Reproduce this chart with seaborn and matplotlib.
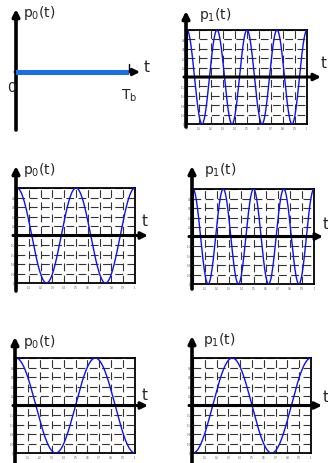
import numpy as np
import pandas as pd
import matplotlib
matplotlib.use("Agg")
import matplotlib.pyplot as plt
import seaborn as sns

W, H = 328, 464
sns.set_theme(style="white")
plt.rcParams["font.family"] = ["DejaVu Sans"]

# ---- data ----
labels = ["p$_0$(t)", "p$_1$(t)", "p$_0$(t)", "p$_1$(t)", "p$_0$(t)", "p$_1$(t)"]
cycles = [0, 4, 2, 4, 1.5, 1.5]          # cycles per bit period Tb
start_level = [0, 1, 1, 1, 1, -1]        # value at t = 0
x_ticks = [0, 0.1, 0.2, 0.3, 0.4, 0.5, 0.6, 0.7, 0.8, 0.9, 1]
y_ticks = [-1, -0.8, -0.6, -0.4, -0.2, 0, 0.2, 0.4, 0.6, 0.8, 1]
x_tick_labels = ["0", "0.1", "0.2", "0.3", "0.4", "0.5", "0.6", "0.7", "0.8", "0.9", "1"]
y_tick_labels = ["-1", "-0.8", "-0.6", "-0.4", "-0.2", "0", "0.2", "0.4", "0.6", "0.8", "1"]

# ---- layout (pixels: left, right, top, bottom) ----
boxes = [(16, 129, 26, 120), (187, 307, 31, 125), (17, 135, 189, 284),
         (193, 314, 190, 285), (16, 135, 359, 454), (193, 311, 359, 454)]
label_pos = [(23, 13), (199, 15), (23, 170), (204, 170), (23, 342), (203, 340)]
t_pos = [(147, 67), (324, 64), (145, 222), (326, 225), (145, 396), (326, 397)]
vert_bottom = [131, 128, 292, 290, 470, 470]
vert_tip = [10, 12, 167, 167, 338, 337]
horiz_start_off = [1, 3, 4, 4, 3, 4]
horiz_tip = [140, 321, 148, 323, 148, 322]

fig = plt.figure(figsize=(W / 100, H / 100), dpi=100)


def fp(x, y):
    return (x / W, 1 - y / H)


def arrow(ax, p0, p1, lw=2.2):
    ax.annotate("", xy=fp(*p1), xytext=fp(*p0), xycoords="figure fraction",
                textcoords="figure fraction", annotation_clip=False,
                arrowprops=dict(arrowstyle="-|>", lw=lw, color="black",
                                mutation_scale=10, shrinkA=0, shrinkB=0),
                zorder=5)


for i in range(6):
    l, r, t, b = boxes[i]
    x0, y0 = fp(l, b)
    ax = fig.add_axes([x0, y0, (r - l) / W, (b - t) / H])
    ax.set_xlim(0, 1)
    ax.set_ylim(-1, 1)
    ax.patch.set_alpha(0)
    yc = (t + b) / 2

    if i == 0:
        for s in ax.spines.values():
            s.set_visible(False)
        ax.set_xticks([])
        ax.set_yticks([])
        arrow(ax, (l, vert_bottom[i]), (l, vert_tip[i]), lw=2.6)
        arrow(ax, (l - horiz_start_off[i], yc), (horiz_tip[i], yc), lw=2.0)
        df = pd.DataFrame({"t": [0, 1.02], "p": [0, 0]})
        sns.lineplot(data=df, x="t", y="p", ax=ax, color="#1a6ee8", lw=3.6,
                     zorder=6)
        ax.plot([1, 1], [0, 0.17], color="black", lw=1.0, clip_on=False, zorder=7)
        fig.text(*fp(11, 88), "0", fontsize=10, ha="center", va="center")
        fig.text(*fp(129, 96), "T$_\\mathrm{b}$", fontsize=10, ha="center", va="center")
    else:
        tt = np.linspace(0, 1, 600)
        p = start_level[i] * np.cos(2 * np.pi * cycles[i] * tt)
        df = pd.DataFrame({"t": tt, "p": p})
        ax.set_xticks(x_ticks)
        ax.set_yticks(y_ticks)
        ax.set_xticklabels(x_tick_labels)
        ax.set_yticklabels(y_tick_labels)
        ax.tick_params(labelsize=1.8, length=0, pad=1.2, labelcolor="#555555")
        ax.grid(True, color="#333333", lw=0.8, linestyle=(0, (7, 4)))
        for s in ax.spines.values():
            s.set_visible(True)
            s.set_color("black")
            s.set_linewidth(1.3)
        sns.lineplot(data=df, x="t", y="p", ax=ax, color="#1010f0", lw=1.0,
                     zorder=3)
        arrow(ax, (l - 1, vert_bottom[i]), (l - 1, vert_tip[i]), lw=2.6)
        arrow(ax, (l - horiz_start_off[i], yc), (horiz_tip[i], yc), lw=2.2)
    ax.set_xlabel("")
    ax.set_ylabel("")
    fig.text(*fp(*label_pos[i]), labels[i], fontsize=10, ha="left", va="center")
    fig.text(*fp(*t_pos[i]), "t", fontsize=11, ha="center", va="center")

fig.savefig("out.png", dpi=100)
